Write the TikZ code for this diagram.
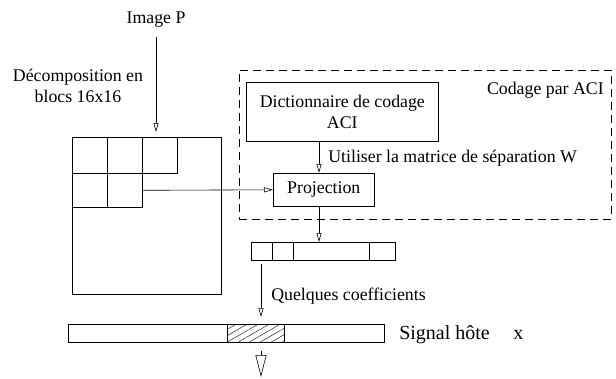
\documentclass[tikz,border=0pt]{standalone}
\usepackage{fontspec}
\setmainfont{Liberation Serif}
\usetikzlibrary{arrows.meta,patterns.meta,calc}
\begin{document}
\begin{tikzpicture}[x=1pt,y=-1pt,
  line width=0.6pt,
  font=\fontsize{17.8}{20.5}\selectfont,
  arr/.style={-{Triangle[open,length=9pt,width=5pt]}},
  bigarr/.style={-{Triangle[open,length=22pt,width=11pt]}},
  box/.style={draw, inner sep=0pt, anchor=north west},
  lbl/.style={inner sep=0pt},
  dashbox/.style={draw, dash pattern=on 8pt off 5pt, inner sep=0pt, anchor=north west},
  hatch/.style={draw, inner sep=0pt, anchor=north west, pattern={Lines[angle=30,distance=5.5pt,line width=0.4pt]}},
]
\useasboundingbox (0,0) rectangle (616,378);

% image and blocks
\node[box, minimum width=149pt, minimum height=157pt] (img) at (72,137) {};
\node[box, minimum width=35pt, minimum height=36pt] (c11) at (72,137) {};
\node[box, minimum width=35pt, minimum height=36pt] (c12) at (107,137) {};
\node[box, minimum width=35pt, minimum height=36pt] (c13) at (142,137) {};
\node[box, minimum width=35pt, minimum height=34pt] (c21) at (72,173) {};
\node[box, minimum width=35pt, minimum height=34pt] (c22) at (107,173) {};

% labels
\node[lbl, anchor=base] (imgP) at (156,23) {Image P};
\node[lbl, anchor=center, align=center] (dec) at (78,86) {Décomposition en\\blocs 16x16};

% ACI coding
\node[dashbox, minimum width=372pt, minimum height=149pt] (aci) at (239,70) {};
\node[lbl, anchor=base east] (acilbl) at (604,94) {Codage par ACI};
\node[box, minimum width=192pt, minimum height=59pt, align=center] (dict) at (246,82) {Dictionnaire de codage\\ACI};
\node[box, minimum width=101pt, minimum height=33pt] (proj) at (273,173) {Projection};
\node[lbl, anchor=base west] (util) at (328,162) {Utiliser la matrice de séparation W};

% coefficients bar
\node[box, minimum width=144pt, minimum height=18pt] (coef) at (251,242) {};
\draw (272,242) -- (272,260);
\draw (293,242) -- (293,260);
\draw (369,242) -- (369,260);
\node[lbl, anchor=base west] (quel) at (271,300) {Quelques coefficients};

% host signal
\node[box, minimum width=316pt, minimum height=18pt] (sig) at (68,324) {};
\node[hatch, minimum width=57pt, minimum height=18pt] (mark) at (227,324) {};
\node[lbl, anchor=base west, font=\fontsize{20}{24}\selectfont] (siglbl) at (399,339) {Signal hôte};
\node[lbl, anchor=base west, font=\fontsize{20}{24}\selectfont] (xlbl) at (513,339) {x};

% coordinates for arrows
\coordinate (xc) at (156,0);
\coordinate (xa) at (319,0);
\coordinate (xb) at (261,0);
\coordinate (out) at (261,377);

% arrows
\draw[arr, shorten <=10pt, shorten >=5pt] (imgP.south) -- (img.north -| xc);
\draw[arr] (c22.east) -- (proj.west);
\draw[arr] (dict.south -| xa) -- (proj.north -| xa);
\draw[arr] (proj.south -| xa) -- (coef.north -| xa);
\draw[arr, shorten <=3pt, shorten >=7pt] (coef.south -| xb) -- (sig.north -| xb);
\draw[bigarr, shorten <=8pt] (sig.south -| xb) -- (out);
\end{tikzpicture}
\end{document}
